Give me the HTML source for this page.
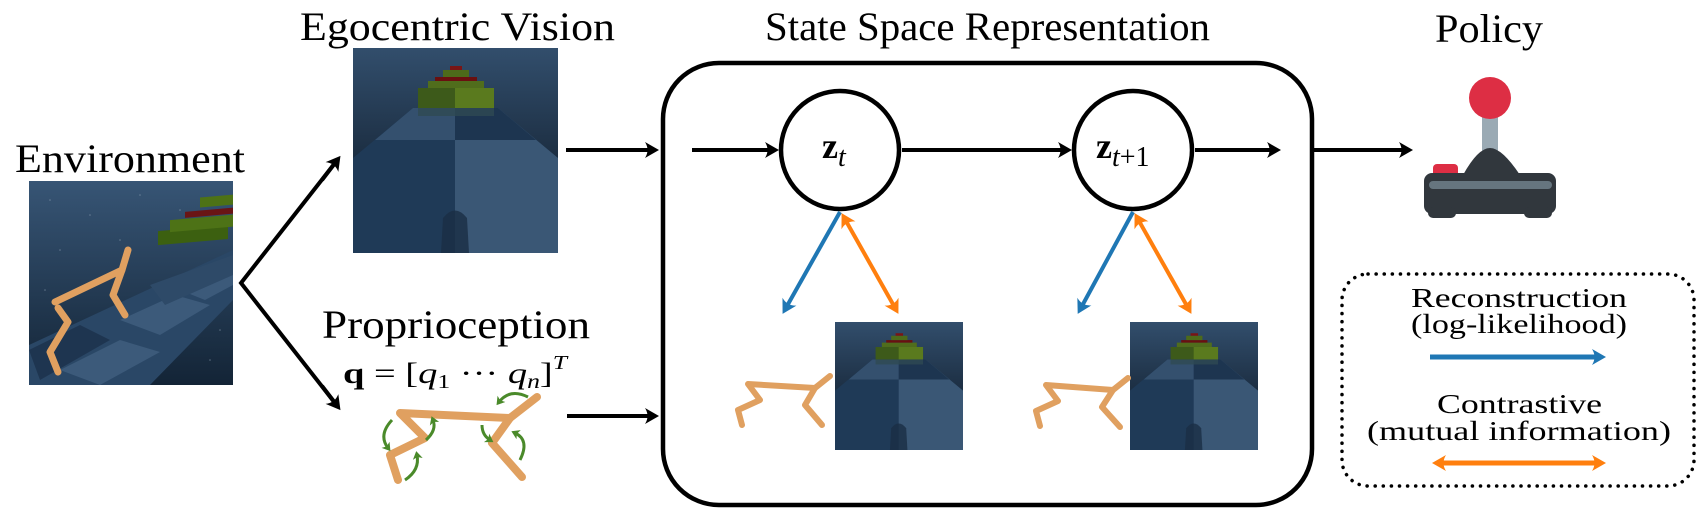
<!DOCTYPE html>
<html><head><meta charset="utf-8"><style>
html,body{margin:0;padding:0;background:#fff;}
svg{display:block;font-family:"Liberation Serif","DejaVu Serif",serif;}
svg text{font-family:"Liberation Serif","DejaVu Serif",serif !important;fill:#000;}
</style></head><body>
<svg width="1697" height="524" viewBox="0 0 1697 524" xmlns="http://www.w3.org/2000/svg" font-family="Liberation Serif, DejaVu Serif, serif">
<defs>
<marker id="ak" markerWidth="20" markerHeight="20" refX="10" refY="10" orient="auto" markerUnits="userSpaceOnUse">
<path d="M19,10 L5,2 Q10,10 5,18 Z" fill="#000"/></marker>
<marker id="ab" markerWidth="20" markerHeight="20" refX="10" refY="10" orient="auto" markerUnits="userSpaceOnUse">
<path d="M19,10 L5,2 Q10,10 5,18 Z" fill="#1f77b4"/></marker>
<marker id="ao" markerWidth="20" markerHeight="20" refX="10" refY="10" orient="auto-start-reverse" markerUnits="userSpaceOnUse">
<path d="M19,10 L5,2 Q10,10 5,18 Z" fill="#ff7f0e"/></marker>
<marker id="ag" markerWidth="10" markerHeight="10" refX="5" refY="5" orient="auto" markerUnits="userSpaceOnUse">
<path d="M9,5 L1,0 L3,5 L1,10 Z" fill="#4a8a2a"/></marker>
<symbol id="ego" viewBox="0 0 205 205">
<rect width="205" height="205" fill="#243f5c"/>
<rect width="205" height="110" fill="url(#sky)"/>
<polygon points="60,60 145,60 205,110 205,205 0,205 0,110" fill="#1f3a57"/>
<polygon points="102,60 145,60 205,110 205,205 102,205" fill="#3a5775"/>
<polygon points="60,60 102,60 102,92 22,92" fill="#34506e"/>
<polygon points="102,60 145,60 183,92 102,92" fill="#1d3550"/>
<rect x="65" y="40" width="76" height="20" fill="#3d5a1a"/>
<rect x="102" y="40" width="39" height="20" fill="#5a7a1e"/>
<rect x="75" y="33" width="56" height="7" fill="#506d1c"/>
<rect x="82" y="29" width="42" height="4" fill="#6a1010"/>
<rect x="90" y="22" width="26" height="7" fill="#4d6a1a"/>
<rect x="97" y="18" width="12" height="4" fill="#7a1515"/>
<rect x="65" y="60" width="76" height="8" fill="#2f4a52" opacity=".8"/>
<path d="M88,205 L90,170 Q102,155 114,170 L116,205 Z" fill="#1a2e45" opacity=".8"/>
</symbol>
<linearGradient id="sky" x1="0" y1="0" x2="0" y2="1"><stop offset="0" stop-color="#324e6c"/><stop offset="1" stop-color="#1c2e42"/></linearGradient>
<linearGradient id="envbg" x1="0" y1="0" x2="0" y2="1"><stop offset="0" stop-color="#375575"/><stop offset="1" stop-color="#132436"/></linearGradient>
</defs>

<text x="15" y="172" font-size="40" textLength="230" lengthAdjust="spacingAndGlyphs">Environment</text>
<text x="300" y="40" font-size="40" textLength="315" lengthAdjust="spacingAndGlyphs">Egocentric Vision</text>
<text x="765" y="40" font-size="40" textLength="445" lengthAdjust="spacingAndGlyphs">State Space Representation</text>
<text x="1435" y="42" font-size="40" textLength="108" lengthAdjust="spacingAndGlyphs">Policy</text>
<text x="322" y="338" font-size="40" textLength="268" lengthAdjust="spacingAndGlyphs">Proprioception</text>
<text x="343" y="383" font-size="30" textLength="224" lengthAdjust="spacingAndGlyphs"><tspan font-weight="bold">q</tspan> = [<tspan font-style="italic">q</tspan><tspan font-size="20" dy="5">1</tspan><tspan dy="-5"> ··· </tspan><tspan font-style="italic">q</tspan><tspan font-size="20" font-style="italic" dy="5">n</tspan><tspan dy="-5">]</tspan><tspan font-size="20" font-style="italic" dy="-14">T</tspan></text>

<g>
<rect x="29" y="181" width="204" height="204" fill="url(#envbg)"/>
<polygon points="29,345 233,250 233,300 150,385 29,385" fill="#2a4766"/>
<polygon points="60,370 120,340 160,352 100,385" fill="#3c5a7a"/>
<polygon points="120,320 175,295 210,305 160,335" fill="#3c5a7a"/>
<polygon points="180,290 233,265 233,285 205,300" fill="#3c5a7a"/>
<polygon points="29,350 80,325 110,340 40,380" fill="#1e3550"/>
<polygon points="150,285 233,255 233,275 165,305" fill="#2e4a68"/>
<rect x="158" y="245" width="70" height="14" fill="#3c6010" transform="skewY(-5)"/>
<rect x="170" y="235" width="63" height="12" fill="#4d7216" transform="skewY(-5)"/>
<rect x="185" y="228" width="48" height="6" fill="#6a1515" transform="skewY(-5)"/>
<rect x="200" y="215" width="33" height="10" fill="#4d7216" transform="skewY(-5)"/>
<g fill="#9ab" opacity=".5"><circle cx="50" cy="200" r=".8"/><circle cx="90" cy="215" r=".8"/><circle cx="140" cy="195" r=".8"/><circle cx="180" cy="210" r=".8"/><circle cx="60" cy="250" r=".8"/><circle cx="120" cy="240" r=".8"/><circle cx="210" cy="360" r=".8"/><circle cx="220" cy="330" r=".8"/><circle cx="45" cy="290" r=".8"/></g>
<g fill="none" stroke="#e0a060" stroke-width="7" stroke-linecap="round" stroke-linejoin="round">
<polyline points="58,308 68,322 50,352 58,372"/>
<polyline points="55,302 122,270 128,250"/>
<polyline points="122,270 113,295 125,315"/>
</g>
</g>

<use href="#ego" x="353" y="48" width="205" height="205"/>
<use href="#ego" x="835" y="322" width="128" height="128"/>
<use href="#ego" x="1130" y="322" width="128" height="128"/>

<g stroke="#000" stroke-width="4" fill="none">
<polyline points="335,163 241,283 335,403"/>
</g>
<path d="M322,180 L335,163" stroke="#000" stroke-width="4" marker-end="url(#ak)"/>
<path d="M322,386 L335,403" stroke="#000" stroke-width="4" marker-end="url(#ak)"/>
<line x1="566" y1="150" x2="650" y2="150" stroke="#000" stroke-width="4" marker-end="url(#ak)"/>
<line x1="567" y1="416" x2="650" y2="416" stroke="#000" stroke-width="4" marker-end="url(#ak)"/>

<g fill="none" stroke="#e0a060" stroke-width="8" stroke-linecap="round" stroke-linejoin="round">
<polyline points="398,480 390,455 425,438 400,413 510,418 537,397"/>
<polyline points="510,418 492,443 522,477"/>
</g>
<g fill="none" stroke="#4a8a2a" stroke-width="3">
<path d="M392,420 Q378,435 388,448" marker-end="url(#ag)"/>
<path d="M426,440 Q437,430 433,420" marker-end="url(#ag)"/>
<path d="M405,480 Q420,470 417,455" marker-end="url(#ag)"/>
<path d="M528,397 Q510,388 499,402" marker-end="url(#ag)"/>
<path d="M482,425 Q482,435 490,440" marker-end="url(#ag)"/>
<path d="M520,460 Q530,440 515,433" marker-end="url(#ag)"/>
</g>

<rect x="663" y="63" width="649" height="442" rx="56" ry="56" fill="none" stroke="#000" stroke-width="4.5"/>

<circle cx="840" cy="150" r="59" fill="#fff" stroke="#000" stroke-width="4.5"/>
<circle cx="1133" cy="150" r="59" fill="#fff" stroke="#000" stroke-width="4.5"/>
<text x="822" y="158" font-size="36" font-weight="bold">z<tspan font-size="28" font-weight="normal" font-style="italic" dy="8">t</tspan></text>
<text x="1096" y="158" font-size="36" font-weight="bold">z<tspan font-size="28" font-weight="normal" dy="8"><tspan font-style="italic">t</tspan>+1</tspan></text>

<line x1="692" y1="150" x2="770" y2="150" stroke="#000" stroke-width="4" marker-end="url(#ak)"/>
<line x1="902" y1="150" x2="1063" y2="150" stroke="#000" stroke-width="4" marker-end="url(#ak)"/>
<line x1="1195" y1="150" x2="1272" y2="150" stroke="#000" stroke-width="4" marker-end="url(#ak)"/>
<line x1="1314" y1="150" x2="1404" y2="150" stroke="#000" stroke-width="4" marker-end="url(#ak)"/>

<line x1="840" y1="212" x2="787" y2="306" stroke="#1f77b4" stroke-width="4" marker-end="url(#ab)"/>
<line x1="846" y1="221" x2="894" y2="306" stroke="#ff7f0e" stroke-width="4" marker-start="url(#ao)" marker-end="url(#ao)"/>
<line x1="1133" y1="212" x2="1082" y2="306" stroke="#1f77b4" stroke-width="4" marker-end="url(#ab)"/>
<line x1="1139" y1="221" x2="1187" y2="306" stroke="#ff7f0e" stroke-width="4" marker-start="url(#ao)" marker-end="url(#ao)"/>

<g fill="none" stroke="#e0a060" stroke-width="6" stroke-linecap="round" stroke-linejoin="round">
<polyline points="742,425 738,410 760,400 748,384 815,388 830,376"/>
<polyline points="815,388 805,405 822,425"/>
<polyline points="1040,426 1036,411 1058,401 1046,385 1113,390 1128,378"/>
<polyline points="1113,390 1102,407 1120,427"/>
</g>

<rect x="1482" y="112" width="16" height="40" fill="#9aaab4"/>
<path d="M1463,175 Q1478,148 1490,148 Q1502,148 1520,175 Z" fill="#31373d"/>
<rect x="1433" y="164" width="25" height="14" rx="4" fill="#dd2e44"/>
<rect x="1424" y="173" width="132" height="41" rx="8" fill="#31373d"/>
<rect x="1428" y="207" width="28" height="11" rx="5" fill="#31373d"/>
<rect x="1524" y="207" width="28" height="11" rx="5" fill="#31373d"/>
<rect x="1429" y="181" width="123" height="8" rx="4" fill="#66757f"/>
<circle cx="1490" cy="98" r="21" fill="#dd2e44"/>

<rect x="1342" y="274" width="352" height="212" rx="26" fill="none" stroke="#000" stroke-width="3.5" stroke-dasharray="0.1 8" stroke-linecap="round"/>
<text x="1411" y="307" font-size="27" textLength="216" lengthAdjust="spacingAndGlyphs">Reconstruction</text>
<text x="1411" y="333" font-size="27" textLength="216" lengthAdjust="spacingAndGlyphs">(log-likelihood)</text>
<line x1="1430" y1="357" x2="1597" y2="357" stroke="#1f77b4" stroke-width="5" marker-end="url(#ab)"/>
<text x="1437" y="413" font-size="27" textLength="165" lengthAdjust="spacingAndGlyphs">Contrastive</text>
<text x="1367" y="440" font-size="27" textLength="304" lengthAdjust="spacingAndGlyphs">(mutual information)</text>
<line x1="1441" y1="463" x2="1597" y2="463" stroke="#ff7f0e" stroke-width="5" marker-start="url(#ao)" marker-end="url(#ao)"/>
</svg>
</body></html>
